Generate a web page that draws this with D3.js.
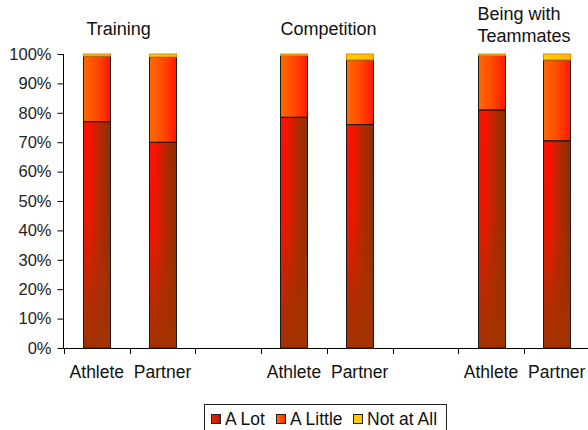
<!DOCTYPE html>
<html>
<head>
<meta charset="utf-8">
<script src="https://cdn.jsdelivr.net/npm/d3@7"></script>
<style>
  html, body { margin: 0; padding: 0; background: #fff; }
  svg { display: block; font-family: "Liberation Sans", Arial, sans-serif; }
</style>
</head>
<body>
<svg id="chart" width="588" height="430"></svg>
<script>
// Activity groups and the two respondents shown in each
const groups = ["Training", "Competition", "Being with Teammates"];
const roles = ["Athlete", "Partner"];

// Percent of responses per bar, in order: Training A/P, Competition A/P, Teammates A/P
const aLot     = [77,   70,   78.5, 76, 81,   70.5];
const aLittle  = [22.3, 29,   21,   22, 18.5, 27.5];
const notAtAll = [0.7,  1,    0.5,  2,  0.5,  2];

const seriesNames = ["A Lot", "A Little", "Not at All"];
const yTickValues = [0, 10, 20, 30, 40, 50, 60, 70, 80, 90, 100];

const svg = d3.select("#chart");

// ---- gradients ----
const defs = svg.append("defs");
function grad(id, vertical, stops) {
  const g = defs.append("linearGradient").attr("id", id)
    .attr("x1", 0).attr("y1", 0).attr("x2", vertical ? 0 : 1).attr("y2", vertical ? 1 : 0);
  stops.forEach(([o, c, op]) => g.append("stop").attr("offset", o)
    .attr("stop-color", c).attr("stop-opacity", op == null ? 1 : op));
}
grad("gLot", false, [[0, "#ff1000"], [0.25, "#f81200"], [0.65, "#b02a00"], [1, "#8a2e00"]]);
grad("gLotShade", true, [[0, "#a33200", 0], [0.45, "#a33200", 0.2], [0.8, "#a33200", 0.8], [1, "#a33200", 1]]);
grad("gLittle", false, [[0, "#ff6a00"], [0.5, "#ff4a00"], [1, "#ff1800"]]);
grad("gNot", false, [[0, "#ffd000"], [1, "#ffb800"]]);
grad("gLegLot", false, [[0, "#ff2000"], [1, "#992600"]]);
grad("gLegLittle", false, [[0, "#ff7000"], [1, "#ff2a00"]]);

// ---- scales ----
const slots = d3.range(8);             // 3 groups x 2 bars, with an empty slot between groups
const x = d3.scaleBand().domain(slots).range([64, 589.6]).padding(0);
const y = d3.scaleLinear().domain([0, 100]).range([348, 54]);
const barW = x.bandwidth() * 0.41;

const bars = [];
groups.forEach((g, gi) => {
  roles.forEach((r, ri) => {
    const i = gi * 2 + ri;
    bars.push({ group: g, role: r, slot: gi * 3 + ri,
      vals: [aLot[i], aLittle[i], notAtAll[i]] });
  });
});

// ---- axes ----
const yAxis = d3.axisLeft(y).tickValues(yTickValues)
  .tickFormat(d => d + "%").tickSize(6).tickPadding(6);
const gy = svg.append("g").attr("transform", "translate(63.5,0)").call(yAxis);
gy.select(".domain").attr("stroke", "#000").attr("d", `M0,${y(100)}V${y(0)}`);
gy.selectAll(".tick line").attr("stroke", "#000");
gy.selectAll(".tick text").attr("font-size", 16.5).attr("fill", "#222")
  .attr("font-family", "Liberation Sans, Arial, sans-serif");

// horizontal axis with tick marks on slot boundaries
const gx = svg.append("g");
gx.append("line").attr("x1", 58).attr("x2", 588).attr("y1", 348.5).attr("y2", 348.5)
  .attr("stroke", "#000");
gx.selectAll("line.xt").data(slots).enter().append("line").attr("class", "xt")
  .attr("x1", d => Math.round(x(d)) + 0.5).attr("x2", d => Math.round(x(d)) + 0.5)
  .attr("y1", 348).attr("y2", 354).attr("stroke", "#000");

// ---- bars ----
const fills = ["url(#gLot)", "url(#gLittle)", "url(#gNot)"];
const strokes = ["#1a1a1a", "#1a1a1a", "#e08a00"];
const barG = svg.append("g");
bars.forEach(b => {
  const cx = x(b.slot) + x.bandwidth() / 2;
  const left = Math.round(cx - barW / 2) + 0.5;
  let cum = 0;
  b.vals.forEach((v, si) => {
    const y0 = y(cum), y1 = y(cum + v);
    cum += v;
    barG.append("rect").attr("x", left).attr("y", y1)
      .attr("width", Math.round(barW)).attr("height", y0 - y1)
      .attr("fill", fills[si]).attr("stroke", strokes[si]).attr("stroke-width", 1);
    if (si === 0) {
      barG.append("rect").attr("x", left).attr("y", y1)
        .attr("width", Math.round(barW)).attr("height", y0 - y1)
        .attr("fill", "url(#gLotShade)").attr("stroke", "#1a1a1a").attr("stroke-width", 1);
    }
  });
});

// ---- category labels ----
svg.append("g").selectAll("text").data(bars).enter().append("text")
  .attr("x", d => x(d.slot) + x.bandwidth() / 2)
  .attr("y", 378).attr("text-anchor", "middle")
  .attr("font-size", 17.5).attr("fill", "#111")
  .text(d => d.role);

// ---- group titles ----
const titleG = svg.append("g").attr("font-size", 18).attr("fill", "#111");
groups.forEach((g, gi) => {
  const cx = x(gi * 3) + x.bandwidth() / 2;
  const left = cx - barW / 2 + (gi === 0 ? 3 : 0);
  if (gi === 2) {
    const t = titleG.append("text").attr("x", left).attr("y", 20);
    t.append("tspan").attr("x", left).attr("y", 20).text("Being with");
    t.append("tspan").attr("x", left).attr("y", 42).text("Teammates");
  } else {
    titleG.append("text").attr("x", left).attr("y", 35).text(g);
  }
});

// ---- legend ----
const leg = svg.append("g");
leg.append("rect").attr("x", 204.5).attr("y", 404.5).attr("width", 242).attr("height", 40)
  .attr("fill", "#fff").attr("stroke", "#222");
const legX = [211, 276, 353];
const legFill = ["url(#gLegLot)", "url(#gLegLittle)", "#ffc800"];
seriesNames.forEach((n, i) => {
  leg.append("rect").attr("x", legX[i] + 0.5).attr("y", 414.5).attr("width", 9).attr("height", 9)
    .attr("fill", legFill[i]).attr("stroke", "#222");
  leg.append("text").attr("x", legX[i] + 14).attr("y", 425)
    .attr("font-size", 17.5).attr("fill", "#111").text(n);
});
</script>
</body>
</html>
